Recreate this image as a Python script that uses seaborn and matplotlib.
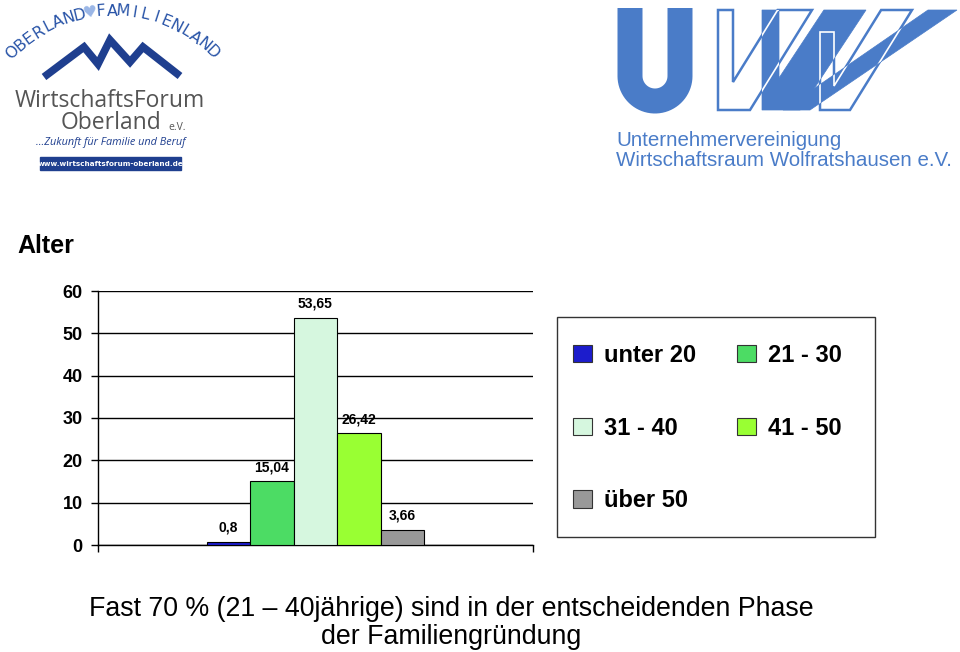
import numpy as np
import pandas as pd
import matplotlib
matplotlib.use("Agg")
import matplotlib.pyplot as plt
from matplotlib.patches import Patch, Rectangle, Polygon
import seaborn as sns

# ---------------- data ----------------
groups = ["unter 20", "21 - 30", "31 - 40", "41 - 50", "über 50"]
values = [0.8, 15.04, 53.65, 26.42, 3.66]
value_labels = ["0,8", "15,04", "53,65", "26,42", "3,66"]
colors = ["#1c1ccc", "#4cdc64", "#d6f7df", "#99ff33", "#999999"]
y_ticks = [0, 10, 20, 30, 40, 50, 60]
title = "Alter"
caption = "Fast 70 % (21 – 40jährige) sind in der entscheidenden Phase\nder Familiengründung"

df = pd.DataFrame({"cat": ["Alter"] * len(groups), "Gruppe": groups, "Wert": values})

sns.set_theme(style="white")
plt.rcParams["font.family"] = ["Liberation Sans", "DejaVu Sans"]
for k in ["text.color", "axes.labelcolor", "xtick.color", "ytick.color"]:
    plt.rcParams[k] = "black"

W, H = 960, 652
fig = plt.figure(figsize=(9.6, 6.52), dpi=100)

# ---------------- decoration layer (logos) in pixel coordinates ----------------
deco = fig.add_axes([0, 0, 1, 1], zorder=0)
deco.set_xlim(0, W)
deco.set_ylim(H, 0)
deco.axis("off")

# left logo: arc text
arc_text = "OBERLAND♥FAMILIENLAND"
xc, yc, r = 112, 152, 141
n = len(arc_text)
angs = np.linspace(-45, 45, n)
for ch, a in zip(arc_text, angs):
    t = np.deg2rad(a)
    x = xc + r * np.sin(t)
    y = yc - r * np.cos(t)
    col = "#9ab6e6" if ch == "♥" else "#2a55a8"
    deco.text(x, y, ch, rotation=-a, ha="center", va="center", fontsize=11.5,
              color=col, family=["DejaVu Sans"], rotation_mode="anchor")
# mountains
mx = [44, 84, 98, 110, 130, 143, 180]
my = [77, 47, 64, 40, 62, 47, 76]
deco.plot(mx, my, color="#1f3f8f", lw=5.5, solid_joinstyle="miter", solid_capstyle="butt")
logo_font = ["Open Sans", "DejaVu Sans"]
deco.text(110, 101, "WirtschaftsForum", ha="center", va="center", fontsize=16.5,
          color="#555555", family=logo_font)
deco.text(111, 123, "Oberland", ha="center", va="center", fontsize=16.5,
          color="#555555", family=logo_font)
deco.text(168, 127, "e.V.", ha="left", va="center", fontsize=7.5,
          color="#555555", family=logo_font)
deco.text(111, 143, "...Zukunft für Familie und Beruf", ha="center", va="center",
          fontsize=7.8, style="italic", color="#1f3f8f", family=logo_font)
deco.add_patch(Rectangle((40, 157), 141, 13, color="#1f3f8f"))
deco.text(110.5, 163.5, "www.wirtschaftsforum-oberland.de", ha="center", va="center",
          fontsize=5.2, weight="bold", color="white", family=["DejaVu Sans"])

# right logo: UWW
blue = "#4a7cc8"
ux = np.concatenate([[630, 630], 655 - 25 * np.cos(np.linspace(0, np.pi, 40)), [680, 680]])
uy = np.concatenate([[8, 76], 76 + 25 * np.sin(np.linspace(0, np.pi, 40)), [76, 8]])
deco.plot(ux, uy, color=blue, lw=18, solid_capstyle="butt")


def vshape(x0, w, yj, b1, t1, ystem=10):
    s = (t1 - b1) / 100.0
    t0 = x0 + w + (yj - 10) * s
    return [(x0, ystem), (x0 + w, ystem), (x0 + w, yj), (t0, 10), (t1, 10),
            (b1, 110), (x0, 110)]


outA = vshape(718, 15, 82, 750, 812)
outC = vshape(820, 14, 86, 850, 912, ystem=32)
filB = vshape(762, 17, 78, 800, 866)
filD = [(783, 110), (810, 110), (957, 10), (928, 10)]

for p in (outA, outC):
    deco.add_patch(Polygon(p, closed=True, facecolor="none", edgecolor=blue, lw=1.8))
fill_patches = []
for p in (filB, filD):
    fp = Polygon(p, closed=True, facecolor=blue, edgecolor=blue, lw=0.5)
    deco.add_patch(fp)
    fill_patches.append(fp)
for p in (outA, outC):
    for fp in fill_patches:
        wp = Polygon(p, closed=True, facecolor="none", edgecolor="white", lw=1.2)
        deco.add_patch(wp)
        wp.set_clip_path(fp)

deco.text(616, 140, "Unternehmervereinigung", ha="left", va="center", fontsize=14.8,
          color=blue)
deco.text(616, 161, "Wirtschaftsraum Wolfratshausen e.V.", ha="left", va="center",
          fontsize=14.8, color=blue)

# ---------------- chart ----------------
ax = fig.add_axes([98 / W, 1 - 545 / H, 435 / W, 254 / H], zorder=2)
ax.patch.set_alpha(0)
sns.barplot(data=df, x="cat", y="Wert", hue="Gruppe", hue_order=groups,
            palette=colors, width=0.5, edgecolor="black", linewidth=0.8,
            legend=False, ax=ax, zorder=3, saturation=1)
for cont, lab in zip(ax.containers, value_labels):
    ax.bar_label(cont, labels=[lab], padding=5, fontsize=10, fontweight="bold")

ax.set_xlim(-0.5, 0.5)
ax.set_ylim(0, 60)
ax.set_yticks(y_ticks)
ax.set_yticklabels([str(v) for v in y_ticks], fontsize=13, fontweight="bold")
ax.set_xticks([-0.5, 0.5])
ax.set_xticklabels(["", ""])
ax.set_xlabel("")
ax.set_ylabel("")
ax.grid(axis="y", color="black", lw=1, zorder=0)
ax.set_axisbelow(True)
for s in ["top", "right"]:
    ax.spines[s].set_visible(False)
for s in ["left", "bottom"]:
    ax.spines[s].set_color("black")
    ax.spines[s].set_linewidth(1)
ax.tick_params(axis="both", direction="out", length=5, width=1, color="black",
               left=True, bottom=True, pad=6)

# legend (row-wise order: unter 20 | 21-30 / 31-40 | 41-50 / über 50)
fig.patches.append(Rectangle((557 / W, 1 - 537 / H), 318 / W, 220 / H,
                             transform=fig.transFigure, facecolor="white",
                             edgecolor="#333333", lw=1, zorder=1))
handles = [Patch(facecolor=c, edgecolor="#333333", lw=0.8, label=g) for c, g in zip(colors, groups)]
order = [0, 2, 4, 1, 3]
leg = fig.legend(handles=[handles[i] for i in order], ncol=2, loc="upper left",
                 bbox_to_anchor=(573 / W, 1 - 344 / H), frameon=False,
                 prop={"size": 17, "weight": "bold"}, handlelength=0.8,
                 handleheight=0.75, handletextpad=0.5, columnspacing=1.75,
                 labelspacing=2.1, borderpad=0, borderaxespad=0)

fig.text(17 / W, 1 - 246 / H, title, fontsize=18, fontweight="bold", ha="left", va="center")
fig.text(451 / W, 1 - 623 / H, caption, fontsize=19.3, ha="center", va="center",
         linespacing=1.08)

fig.savefig("out.png", dpi=100)
